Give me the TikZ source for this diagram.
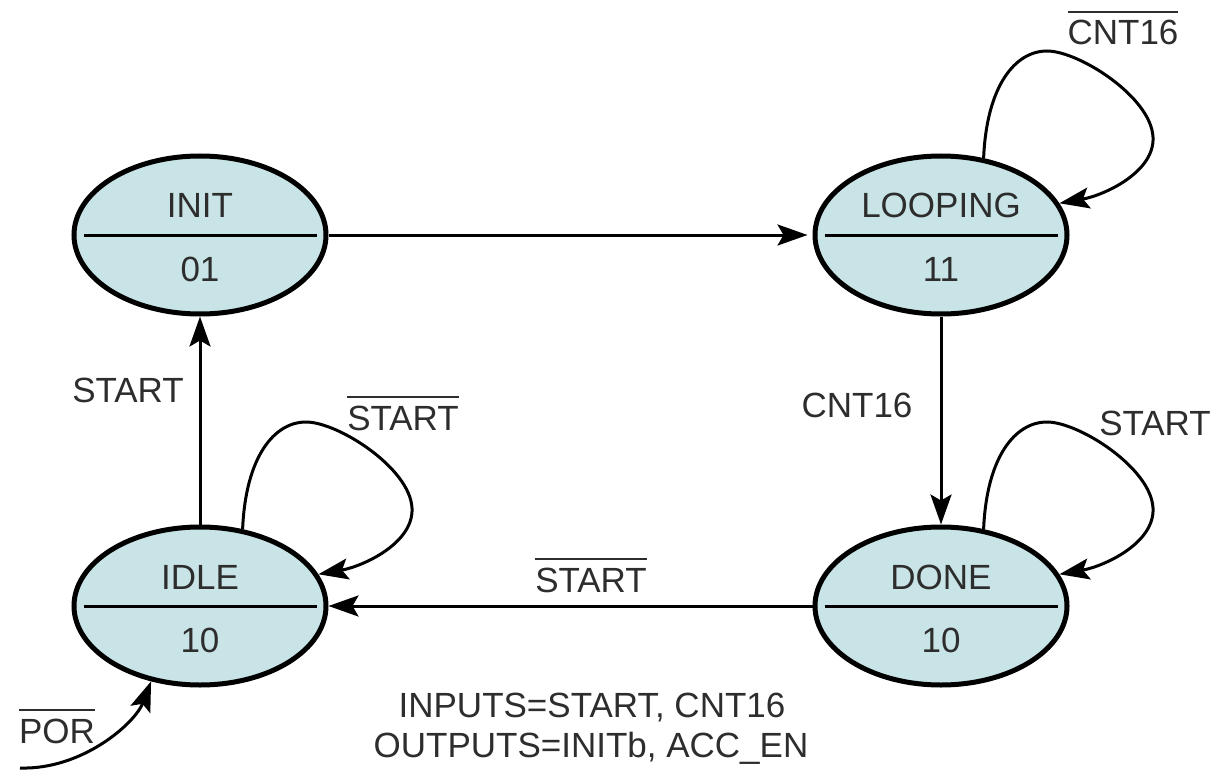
\documentclass[tikz,border=0pt]{standalone}
\usepackage{fontspec}
\setmainfont{Liberation Sans}
\usetikzlibrary{arrows.meta,shapes.geometric,calc}
\definecolor{statefill}{RGB}{200,228,230}
\definecolor{ink}{RGB}{45,45,45}
% text with a bar over it (negated signal)
\newcommand\barred[1]{\setbox0\hbox{#1}\vbox{\hrule height 2pt width \wd0\kern 8pt\box0}}
% self transition drawn above-right of a state
\newcommand\selfloop[1]{%
  \draw[conn] (#1.61) .. controls +(3,-72) and +(-32,0) .. ($(#1.center)+(106,-184)$)
    .. controls +(32,0) and +(-2,-40) .. ($(#1.center)+(212,-98)$)
    .. controls +(2,35) and +(45,-8) .. (#1.15);}
% state bubble: name on top, output code below
\newcommand\statenode[4]{%
  \node[state] (#1) at (#2) {};
  \draw[divider] ([xshift=12pt]#1.west) -- ([xshift=-12pt]#1.east);
  \node[lbl] (#1-name) at ([yshift=17pt]#1.center) {#3};
  \node[lbl] (#1-code) at ([yshift=-46pt]#1.center) {#4};}
\begin{document}
\begin{tikzpicture}[x=1pt,y=-1pt,
  state/.style={ellipse, draw=black, line width=5pt, fill=statefill,
    minimum width=252pt, minimum height=158pt, inner sep=0pt},
  divider/.style={line width=3pt},
  lbl/.style={text=ink, font=\fontsize{35}{40}\selectfont, inner sep=0pt, anchor=base},
  conn/.style={line width=3pt, -{Stealth[length=30pt,width=21pt,inset=6pt]}},
]
\useasboundingbox (0,0) rectangle (1216,773);

\statenode{INIT}{200,235}{INIT}{01}
\statenode{LOOPING}{941,235}{LOOPING}{11}
\statenode{IDLE}{200,606}{IDLE}{10}
\statenode{DONE}{941,606}{DONE}{10}

% transitions between states
\draw[conn, shorten >=5pt] (INIT.east) -- (LOOPING.west);
\draw[conn] (LOOPING.south) -- (DONE.north);
\draw[conn] (DONE.west) -- (IDLE.east);
\draw[conn] (IDLE.north) -- (INIT.south);

% self transitions
\selfloop{LOOPING}
\selfloop{IDLE}
\selfloop{DONE}

% power-on reset entry
\coordinate (porin) at (20,768);
\draw[conn] (porin) .. controls +(62,2) and +(-16,42) .. (IDLE.-123);

% transition conditions
\node[lbl] (c-loop) at (1123,45) {\barred{CNT16}};
\node[lbl] (c-idle) at (403,430) {\barred{START}};
\node[lbl] (c-start) at (128,402) {START};
\node[lbl] (c-cnt) at (857,417) {CNT16};
\node[lbl] (c-done) at (1155,435) {START};
\node[lbl] (c-back) at (591,592) {\barred{START}};
\node[lbl] (c-por) at (57,743) {\barred{POR}};

% legend
\node[lbl] (inputs) at (592,717) {INPUTS=START, CNT16};
\node[lbl] (outputs) at (591,757) {OUTPUTS=INITb, ACC\_EN};
\end{tikzpicture}
\end{document}
